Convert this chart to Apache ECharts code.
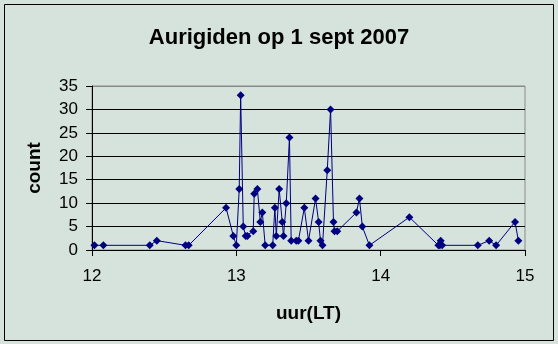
<!DOCTYPE html>
<html><head><meta charset="utf-8">
<script src="https://cdn.jsdelivr.net/npm/echarts@6/dist/echarts.min.js"></script>
<style>html,body{margin:0;padding:0;background:#d5e3dc;}#c{width:558px;height:344px;}</style>
</head><body><div id="c"></div>
<script>
var titleText = 'Aurigiden op 1 sept 2007';
var xName = 'uur(LT)';
var yName = 'count';
var hours = [12.017,12.079,12.40,12.449,12.648,12.67,12.929,12.979,13.0,13.02,13.03,13.048,13.065,13.077,13.117,13.124,13.146,13.166,13.18,13.20,13.252,13.267,13.277,13.297,13.318,13.327,13.346,13.368,13.38,13.415,13.43,13.471,13.50,13.549,13.57,13.583,13.597,13.63,13.653,13.673,13.68,13.699,13.832,13.853,13.873,13.922,14.199,14.40,14.41,14.416,14.426,14.673,14.752,14.80,14.931,14.954];
var counts = [1,1,1,2,1,1,9,3,1,13,33,5,3,3,4,12,13,6,8,1,1,9,3,13,6,3,10,24,2,2,2,9,2,11,6,2,1,17,30,6,4,4,8,11,5,1,7,1,1,2,1,1,2,1,6,2];
var xTicks = {min:12, max:15, interval:1};
var yTicks = {min:0, max:35, interval:5};

var pts = hours.map(function(h,i){return [h, counts[i]];});
var FF = 'Liberation Sans, Arial, sans-serif';
var chart = echarts.init(document.getElementById('c'), null, {renderer:'canvas'});
chart.setOption({
  backgroundColor:'#d5e3dc',
  animation:false,
  title:{text:titleText, left:'center', top:22, textStyle:{fontFamily:FF, fontSize:22, fontWeight:'bold', color:'#000'}},
  grid:{left:92, right:33, top:86, bottom:94, show:true, borderColor:'#8a8a8a', borderWidth:1, backgroundColor:'transparent'},
  xAxis:{type:'value', min:xTicks.min, max:xTicks.max, interval:xTicks.interval,
    name:xName, nameLocation:'middle', nameGap:54, nameTextStyle:{fontFamily:FF, fontSize:19, fontWeight:'bold', color:'#000'},
    axisLine:{show:true, onZero:false, lineStyle:{color:'#000', width:1}},
    axisTick:{show:true, length:6, lineStyle:{color:'#000'}},
    axisLabel:{fontFamily:FF, fontSize:17, color:'#000', margin:18},
    splitLine:{show:false}},
  yAxis:{type:'value', min:yTicks.min, max:yTicks.max, interval:yTicks.interval,
    name:yName, nameLocation:'middle', nameGap:48, nameRotate:90, nameTextStyle:{fontFamily:FF, fontSize:19, fontWeight:'bold', color:'#000'},
    axisLine:{show:true, lineStyle:{color:'#000', width:1}},
    axisTick:{show:true, length:6, lineStyle:{color:'#000'}},
    axisLabel:{fontFamily:FF, fontSize:17, color:'#000', margin:14},
    splitLine:{show:true, lineStyle:{color:['#000','#000','#000','#000','#000','#000','#000','#8a8a8a'], width:1}}},
  graphic:[{type:'rect', shape:{x:4.5, y:4.5, width:549, height:336}, style:{fill:null, stroke:'#000', lineWidth:1}, silent:true}],
  series:[{type:'line', data:pts, symbol:'diamond', symbolSize:8,
    lineStyle:{color:'#000080', width:1}, itemStyle:{color:'#000080'}}]
});
</script></body></html>
